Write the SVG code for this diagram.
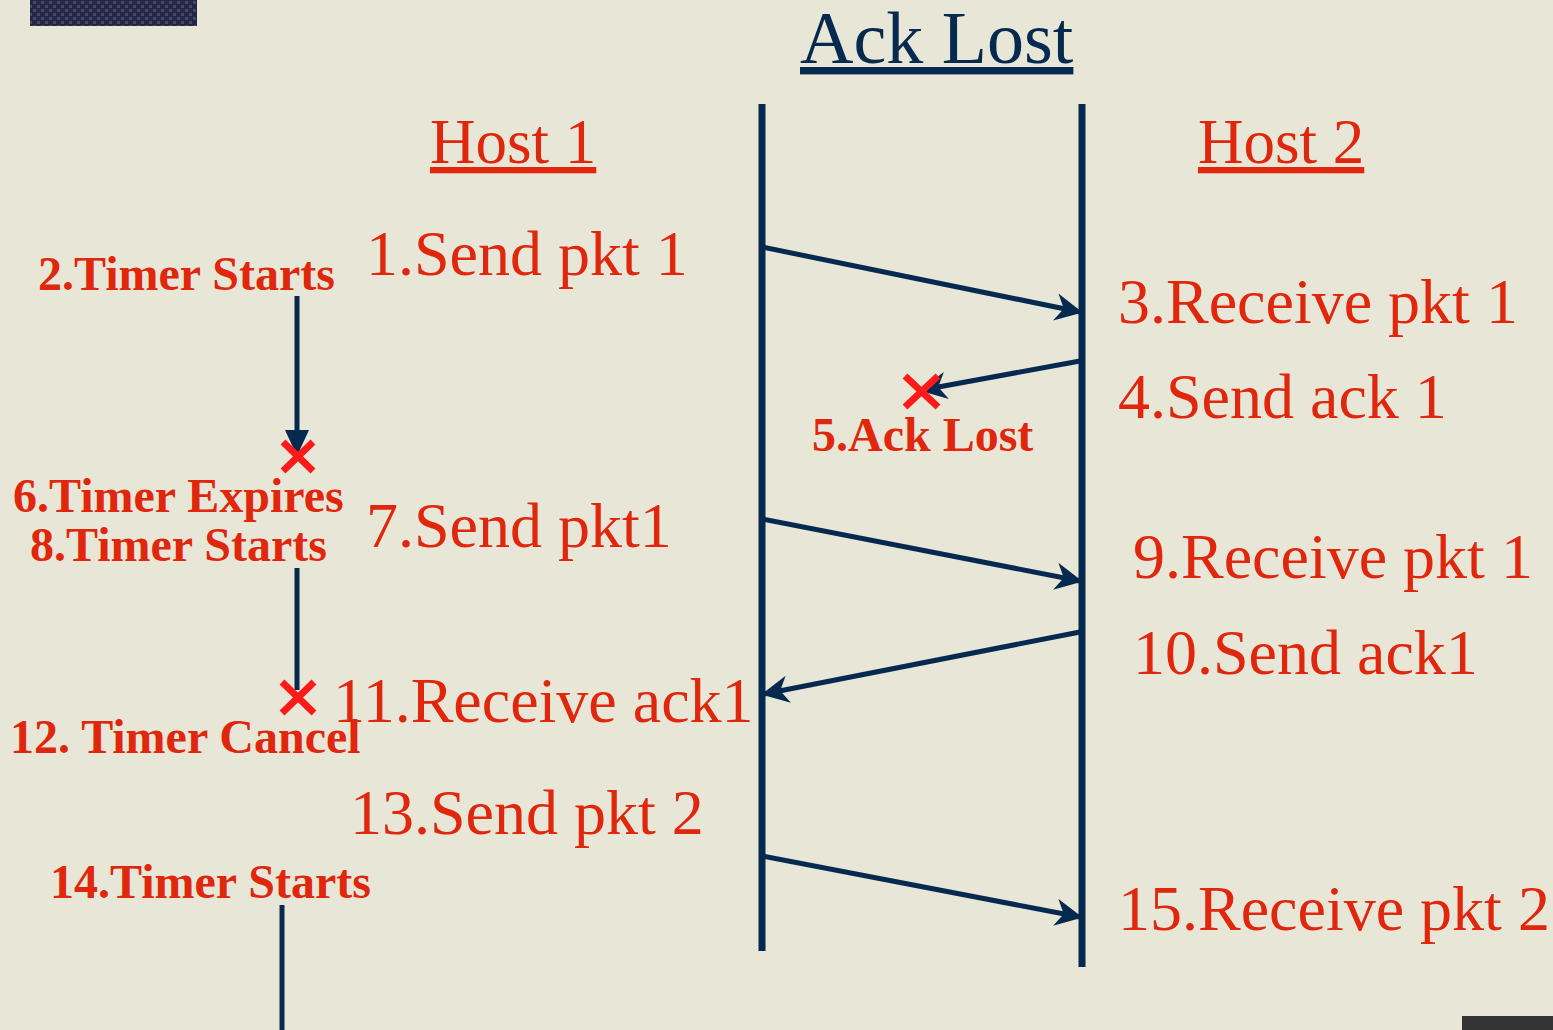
<svg xmlns="http://www.w3.org/2000/svg" width="1553" height="1030" viewBox="0 0 1553 1030">
  <style>
    .life { stroke: #06294F; stroke-width: 7; fill: none; }
    .msg { stroke: #06294F; stroke-width: 5; fill: none; marker-end: url(#head); }
    .timer { stroke: #06294F; stroke-width: 5; fill: none; }
    .cross { stroke: #FF1A1A; stroke-width: 7; fill: none; }
    .big { font-family: "Liberation Serif", "Times New Roman", serif; font-size: 64px; fill: #E0260C; }
    .bold { font-family: "Liberation Serif", "Times New Roman", serif; font-size: 48px; font-weight: bold; fill: #E0260C; }
    .head { font-family: "Liberation Serif", "Times New Roman", serif; text-decoration: underline; }
  </style>
  <defs>
    <marker id="head" viewBox="0 0 10 10" refX="9" refY="5" markerWidth="5.5" markerHeight="5.5" orient="auto" markerUnits="strokeWidth">
      <path d="M0,0 L10,5 L0,10 L3,5 Z" fill="#06294F"/>
    </marker>
    <pattern id="dots" width="8" height="8" patternUnits="userSpaceOnUse">
      <rect width="8" height="8" fill="#22264C"/>
      <rect x="1" y="1" width="3" height="3" fill="#4A4A55"/>
      <rect x="5" y="5" width="3" height="3" fill="#4A4A55"/>
    </pattern>
  </defs>

  <!-- background -->
  <rect width="1553" height="1030" fill="#E8E7D7"/>
  <rect x="30" y="0" width="167" height="26" fill="url(#dots)"/>
  <rect x="1462" y="1016" width="91" height="14" fill="#333333"/>

  <!-- titles -->
  <text class="head" x="800" y="63" font-size="74" fill="#06294F">Ack Lost</text>
  <text class="head" x="430" y="163" font-size="63" fill="#E0260C">Host 1</text>
  <text class="head" x="1198" y="163" font-size="63" fill="#E0260C">Host 2</text>

  <!-- host lifelines -->
  <g id="host1-line"><line class="life" x1="762" y1="104" x2="762" y2="951"/></g>
  <g id="host2-line"><line class="life" x1="1082" y1="104" x2="1082" y2="967"/></g>

  <!-- messages and timers -->
  <g id="connectors">
    <line class="msg" x1="762" y1="247" x2="1080" y2="312"/>
    <line class="msg" x1="1080" y1="361" x2="922" y2="390"/>
    <line class="msg" x1="762" y1="519" x2="1080" y2="581"/>
    <line class="msg" x1="1080" y1="632" x2="764" y2="694"/>
    <line class="msg" x1="762" y1="856" x2="1080" y2="917"/>
    <line class="timer" x1="297" y1="296" x2="297" y2="436"/>
    <path d="M285,430 L309,430 L297,456 Z" fill="#06294F"/>
    <line class="timer" x1="297" y1="568" x2="297" y2="690"/>
    <line class="timer" x1="282" y1="905" x2="282" y2="1030"/>
  </g>

  <!-- loss / expiry marks -->
  <g id="marks">
    <path class="cross" d="M283,442 L313,471 M313,442 L283,471"/>
    <path class="cross" d="M282,682 L314,713 M314,682 L282,713"/>
    <path class="cross" d="M905,376 L938,407 M938,376 L905,407"/>
  </g>

  <!-- event labels -->
  <g id="host1-events">
    <text class="big" x="366" y="275">1.Send pkt 1</text>
    <text class="big" x="366" y="547">7.Send pkt1</text>
    <text class="big" x="333" y="722">11.Receive ack1</text>
    <text class="big" x="350" y="834">13.Send pkt 2</text>
  </g>
  <g id="timer-events">
    <text class="bold" x="38" y="290">2.Timer Starts</text>
    <text class="bold" x="13" y="512">6.Timer Expires</text>
    <text class="bold" x="30" y="561">8.Timer Starts</text>
    <text class="bold" x="10" y="753">12. Timer Cancel</text>
    <text class="bold" x="50" y="898">14.Timer Starts</text>
  </g>
  <g id="loss-event">
    <text class="bold" x="812" y="451">5.Ack Lost</text>
  </g>
  <g id="host2-events">
    <text class="big" x="1118" y="323">3.Receive pkt 1</text>
    <text class="big" x="1118" y="418">4.Send ack 1</text>
    <text class="big" x="1133" y="578">9.Receive pkt 1</text>
    <text class="big" x="1133" y="674">10.Send ack1</text>
    <text class="big" x="1118" y="930">15.Receive pkt 2</text>
  </g>
</svg>
